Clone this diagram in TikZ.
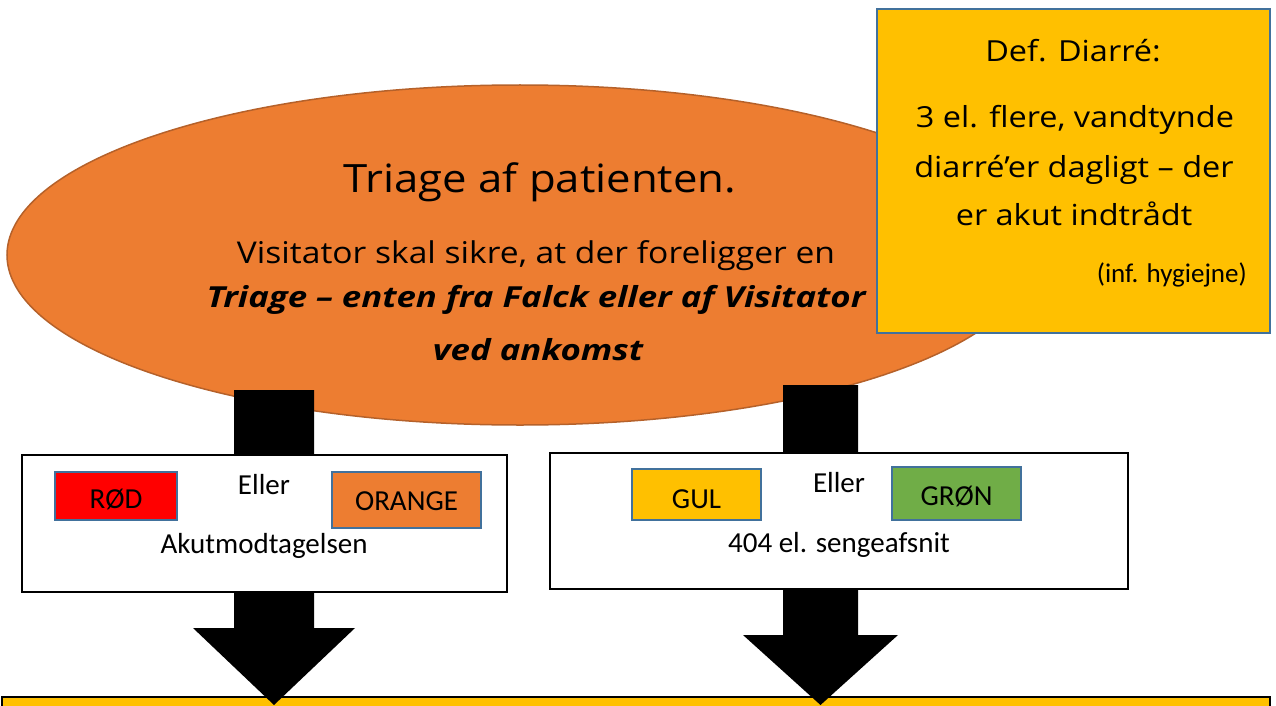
\documentclass[tikz,border=0pt]{standalone}
\usepackage{fontspec}
\setmainfont{Carlito}
\newfontfamily\comic[FakeStretch=1.12]{Open Sans}
\newfontfamily\comicbi[FakeStretch=1.2]{Open Sans}
\usetikzlibrary{shapes.geometric,calc}
\definecolor{ellfill}{HTML}{ED7D31}
\definecolor{elldraw}{HTML}{B5612A}
\definecolor{gold}{HTML}{FFC000}
\definecolor{steel}{HTML}{41719C}
\definecolor{grn}{HTML}{70AD47}
\definecolor{rd}{HTML}{FF0000}
\tikzset{
  comictxt/.style={font=\comic\fontsize{#1}{#1}\selectfont, inner sep=0pt, anchor=base},
  comicbold/.style={font=\comicbi\bfseries\itshape\fontsize{#1}{#1}\selectfont, inner sep=0pt, anchor=base},
  calitxt/.style={font=\fontsize{#1}{#1}\selectfont, inner sep=0pt, anchor=base},
  midbox/.style={draw=black, line width=2.5pt, fill=white},
  colbox/.style={draw=steel, line width=2pt},
  blockarrow/.style={fill=black},
}
\begin{document}
\begin{tikzpicture}[x=1pt,y=-1pt]
\useasboundingbox (0,0) rectangle (1276,706);
% bottom box
\fill[gold, draw=black, line width=2.5pt] (2,697) rectangle (1270,720);
% ellipse
\node[ellipse, fill=ellfill, draw=elldraw, line width=1.5pt, minimum width=1026pt, minimum height=340pt, inner sep=0pt] (ell) at (520,255) {};
% def box
\node[draw=steel, line width=2pt, fill=gold, minimum width=393pt, minimum height=324pt, inner sep=0pt] (def) at (1073.5,171) {};
% arrows
\coordinate (la) at (274,390);
\coordinate (lt) at (274,705);
\coordinate (ra) at (820.5,385);
\coordinate (rt) at (820.5,705);
\fill[blockarrow] ($(la)+(-40,0)$) -- ($(la)+(40,0)$) -- ($(la)+(40,238)$) -- ($(la)+(81,238)$) -- (lt) -- ($(la)+(-81,238)$) -- ($(la)+(-40,238)$) -- cycle;
\fill[blockarrow] ($(ra)+(-37.5,0)$) -- ($(ra)+(37.5,0)$) -- ($(ra)+(37.5,250)$) -- ($(ra)+(77.5,250)$) -- (rt) -- ($(ra)+(-77.5,250)$) -- ($(ra)+(-37.5,250)$) -- cycle;
% mid boxes
\node[midbox, inner sep=0pt, minimum width=485pt, minimum height=137pt] (lbox) at (264.5,523.5) {};
\node[midbox, inner sep=0pt, minimum width=578pt, minimum height=136pt] (rbox) at (839,521) {};
\fill[rd, colbox] (55,472) rectangle (177,520);
\fill[ellfill, colbox] (332,472) rectangle (481,528);
\fill[gold, colbox] (632,469) rectangle (761,520);
\fill[grn, colbox] (892,467) rectangle (1021,520);
\node[calitxt=29] (rod) at (116,508) {RØD};
\node[calitxt=29] (orange) at (406.5,510) {ORANGE};
\node[calitxt=29] (gul) at (696.5,508) {GUL};
\node[calitxt=29] (gron) at (956.5,505) {GRØN};
\node[calitxt=29] (eller1) at (264,494) {Eller};
\node[calitxt=29] (akut) at (264,553) {Akutmodtagelsen};
\node[calitxt=29] (eller2) at (839,492) {Eller};
\node[calitxt=29] (sengeafsnit) at (839,552) {404 el. sengeafsnit};
% ellipse text
\node[comictxt=39] (title) at (540,192) {Triage af patienten.};
\node[comictxt=30] (l1) at (536,263) {Visitator skal sikre, at der foreligger en};
\node[comicbold=29] (l2) at (536,307) {Triage – enten fra Falck eller af Visitator};
\node[comicbold=29] (l3) at (538,360) {ved ankomst};
% def text
\node[comictxt=29] (d1) at (1073,62) {Def. Diarré:};
\node[comictxt=29] (d2) at (1075,128) {3 el. flere, vandtynde};
\node[comictxt=29] (d3) at (1074,177) {diarré’er dagligt – der};
\node[comictxt=29] (d4) at (1074,225) {er akut indtrådt};
\node[calitxt=27, anchor=base east] (d5) at (1247,282) {(inf. hygiejne)};
\end{tikzpicture}
\end{document}
